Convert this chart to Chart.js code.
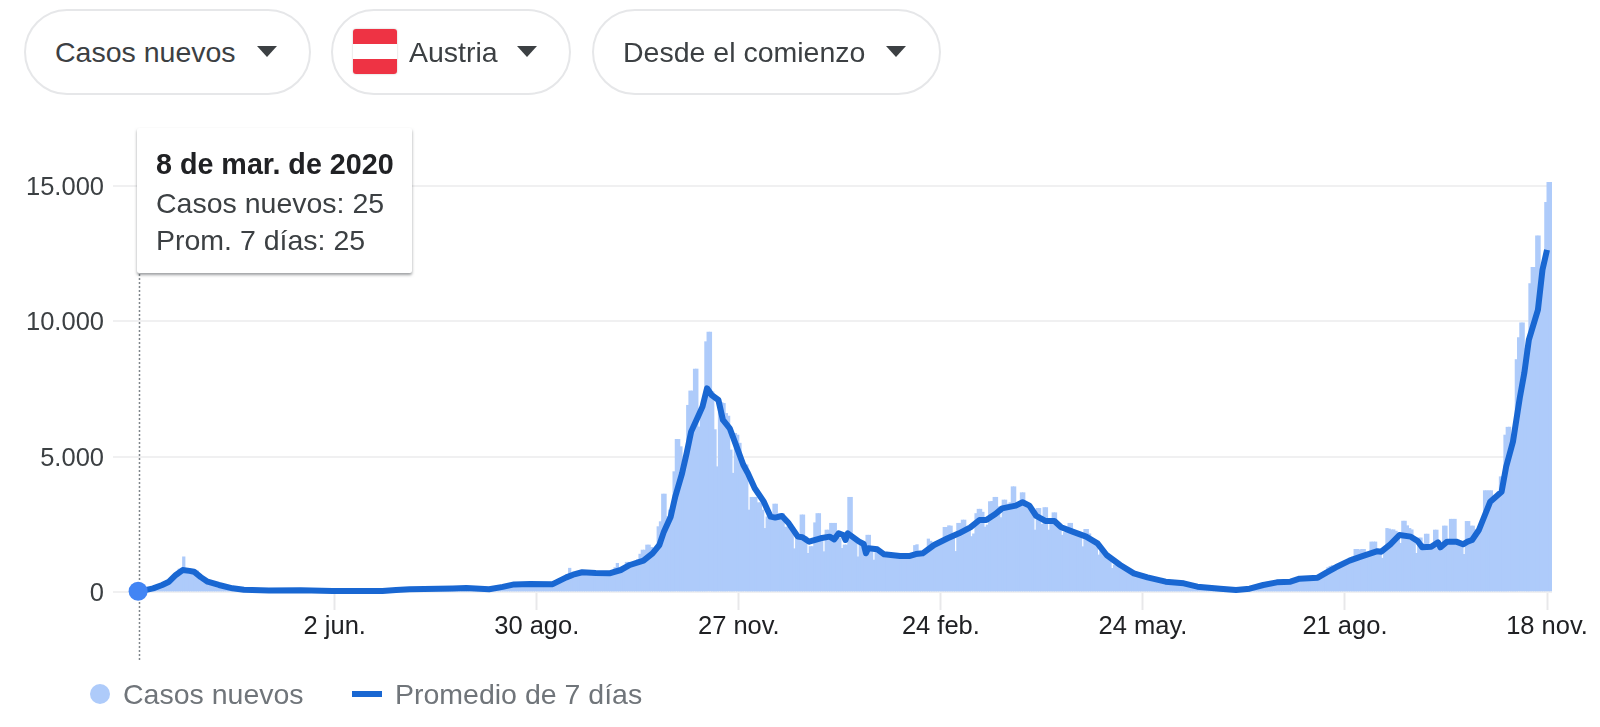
<!DOCTYPE html>
<html lang="es">
<head>
<meta charset="utf-8">
<title>Casos nuevos – Austria</title>
<script src="https://cdn.jsdelivr.net/npm/chart.js@4"></script>
<style>
  html, body { margin: 0; padding: 0; background: #fff; width: 1600px; height: 727px; overflow: hidden; }
  body { position: relative; font-family: "Liberation Sans", Arial, sans-serif; color: #3c4043; }
  #chart { position: absolute; left: 0; top: 0; }
  .pill { position: absolute; top: 9px; height: 86px; box-sizing: border-box; border: 2px solid #e6e7e9; border-radius: 43px; background: #fff; }
  .pill span { position: absolute; top: 25px; line-height: 33px; font-size: 28.5px; white-space: nowrap; }
  .pill i { position: absolute; top: 35px; width: 0; height: 0; border-left: 10.5px solid transparent; border-right: 10.5px solid transparent; border-top: 11px solid #3c4043; }
  .flag { position: absolute; left: 20px; top: 18px; width: 44px; height: 45px; border-radius: 3px; background: linear-gradient(#ee3344 0 33%, #fff 33% 66%, #ee3344 66%); box-shadow: 0 0 2px rgba(0,0,0,.25); }
  #tip { position: absolute; left: 137px; top: 128px; width: 275px; height: 145px; background: #fff; border-radius: 2px; box-shadow: 0 2px 3px rgba(60,64,67,.5); font-size: 28.5px; color: #3c4043; }
  #tip div { position: absolute; left: 19px; line-height: 34px; white-space: nowrap; }
  #tip .head { top: 19px; font-weight: bold; color: #202124; font-size: 28.7px; }
  .legend { position: absolute; top: 677px; line-height: 34px; font-size: 28.5px; color: #70757a; white-space: nowrap; }
  .swatch { position: absolute; }
</style>
</head>
<body>
<canvas id="chart" width="1600" height="727"></canvas>

<div class="pill" style="left:24px;width:287px"><span style="left:29px">Casos nuevos</span><i style="left:231px"></i></div>
<div class="pill" style="left:331px;width:240px"><b class="flag"></b><span style="left:76px">Austria</span><i style="left:184px"></i></div>
<div class="pill" style="left:592px;width:349px"><span style="left:29px">Desde el comienzo</span><i style="left:292px"></i></div>

<div id="tip"><div class="head" id="tipTitle"></div><div id="tipCases" style="top:58px"></div><div id="tipAvg" style="top:95px"></div></div>

<div class="swatch" style="left:90px;top:684px;width:20px;height:20px;border-radius:50%;background:#aecbfa"></div>
<div class="legend" style="left:123px" id="legendCases"></div>
<div class="swatch" style="left:352px;top:691px;width:30px;height:6px;background:#1967d2"></div>
<div class="legend" style="left:395px" id="legendAvg"></div>

<script>
// Austria, new COVID-19 cases per day, counted from 8 March 2020.
const dailyCases = [
  25,30,40,60,80,100,140,150,170,200,
  220,260,310,370,420,560,650,850,850,1300,
  800,780,800,760,700,780,560,520,450,420,
  380,330,300,280,260,250,240,230,210,190,
  170,140,130,100,95,90,85,80,70,65,
  60,60,55,70,65,50,55,60,55,50,
  70,60,55,50,60,70,80,70,60,65,
  55,50,60,55,45,50,40,45,30,40,
  35,30,40,30,35,30,35,25,30,40,
  35,30,30,25,35,40,30,30,25,30,
  35,30,25,40,35,30,35,45,40,50,
  60,50,55,70,90,100,120,110,90,100,
  95,110,90,80,100,120,110,100,90,110,
  120,110,130,120,130,120,110,140,130,120,
  110,120,130,140,120,110,130,120,100,90,
  80,90,100,80,90,100,110,130,160,190,
  210,230,250,280,300,280,270,300,310,290,
  280,300,310,290,280,300,280,270,300,290,
  280,290,300,310,340,400,480,550,650,880,
  640,620,650,720,780,760,740,720,780,700,
  690,710,680,660,650,700,720,750,780,900,
  1060,880,840,860,1100,1100,1050,1080,1100,1200,
  1400,1550,1550,1737,1737,1650,1550,1550,2415,2600,
  3620,3620,2784,3030,3030,4447,5640,5640,5370,4400,
  4500,6900,7430,7430,8240,8240,6100,6700,6800,9250,
  9600,9600,7400,6000,4630,7100,7000,6970,6600,6500,
  5250,4390,5860,5800,5500,4880,4750,4700,3030,3500,
  3500,3500,3300,3300,3030,2350,2780,2780,2780,3250,
  3250,2900,2900,2900,2400,2400,2400,2400,1600,2100,
  2100,2850,2850,2050,1430,1680,1680,2560,2900,2900,
  1920,1490,2290,2290,2540,2540,2540,1980,1980,1614,
  1740,1740,3500,3500,1980,1980,1300,1740,1740,1800,
  2100,2100,1490,1180,1490,1490,1490,1490,1300,1350,
  1280,1310,1400,1250,1300,1300,1350,1280,1250,1320,
  1380,1720,1750,1400,1380,1330,1450,1960,1880,1600,
  1700,1750,1800,1880,2390,2390,2450,2440,2000,1500,
  2540,2540,2660,2660,2300,2350,2050,2150,2900,3060,
  3060,2950,2400,2480,3340,3350,3500,3500,3150,2750,
  3400,3400,3250,3300,3890,3890,3250,3200,3670,3670,
  3300,3200,3150,2900,2290,3090,3090,2500,3120,3120,
  2290,2500,2930,2930,2400,2300,2100,2200,2300,2540,
  2540,2250,2200,2100,2050,1675,2316,2316,2150,1950,
  1850,1750,1368,1500,1450,1350,1300,1150,875,1000,
  1050,950,900,850,820,800,730,650,690,700,
  640,600,560,530,520,470,480,470,430,410,
  400,400,380,370,350,350,340,330,330,320,
  300,280,250,220,210,190,180,170,160,150,
  140,130,130,120,110,110,110,100,90,85,
  80,70,75,70,80,85,90,100,110,125,
  140,170,190,220,250,270,300,320,340,350,
  360,370,350,380,390,370,390,400,420,440,
  480,510,500,510,520,500,520,530,560,600,
  650,700,780,900,950,980,960,940,1000,1050,
  1100,1150,1200,1250,1300,1577,1577,1560,1577,1577,
  1350,1300,1850,1850,1850,1600,1500,1250,1500,2350,
  2330,2300,2300,2250,2000,1800,2620,2620,2450,2350,
  2300,1900,1430,2000,2000,1800,2140,2140,1650,1700,
  2290,2290,1800,1550,2440,2440,1800,2690,2690,2690,
  1900,1800,1700,1390,2610,2610,2440,2440,2300,2200,
  2300,2500,3745,3745,3745,3745,3500,3500,3700,4260,
  4260,5800,6090,6090,5680,5700,8590,9400,9950,9950,
  9000,8900,11400,12000,12000,13160,13160,11800,11900,14400,15140,15140
];

// 7-day average, as day number since 8 March 2020 and value.
const averageDays = [
  0,6,10,13,16,19,22,24,27,30,35,41,46,57,71,85,107,113,119,138,144,154,160,165,172,182,188,191,195,201,
  207,212,216,222,226,229,231,234,236,239,241,243,246,248,250,252,255,257,260,263,266,268,271,275,278,280,
  283,286,290,292,295,300,304,306,308,310,311,312,317,319,320,321,325,328,335,339,342,345,350,356,361,366,
  370,373,377,380,386,389,392,395,399,403,406,411,417,422,426,432,438,444,452,460,466,476,483,489,495,501,
  507,511,519,523,527,533,538,545,547,551,555,560,563,565,569,572,573,576,580,583,585,587,590,595,600,602,
  605,608,610,612,616,618,620
];
const averageValues = [
  25,135,260,380,630,810,780,750,550,380,260,135,85,60,65,40,35,70,100,130,150,100,190,280,295,290,540,640,730,700,
  690,813,998,1158,1430,1737,2230,2784,3523,4386,5125,5926,6480,6850,7527,7281,7096,6357,6049,5371,4694,4386,3832,3339,2784,2750,
  2809,2538,2045,2020,1860,1984,2045,1946,2168,2107,1922,2168,1860,1774,1430,1614,1577,1392,1330,1330,1404,1429,1737,1984,2168,2390,
  2661,2661,2883,3092,3191,3314,3191,2809,2624,2624,2390,2230,2045,1799,1368,998,690,542,382,320,197,120,74,123,259,357,
  382,493,530,727,912,1158,1306,1503,1491,1762,2107,2045,1885,1651,1675,1836,1651,1860,1860,1762,1860,1922,2291,3338,3707,4631,
  5555,7170,8090,9314,10423,11900,12640
];

const xTickDays = [86, 175, 264, 353, 442, 531, 620];
const xTickLabels = ['2 jun.', '30 ago.', '27 nov.', '24 feb.', '24 may.', '21 ago.', '18 nov.'];
const yTickValues = [0, 5000, 10000, 15000];
const selectedDay = 0;
const selectedDate = '8 de mar. de 2020';
const casesLabel = 'Casos nuevos';
const averageLabel = 'Promedio de 7 días';

const formatThousands = v => String(v).replace(/\B(?=(\d{3})+$)/g, '.');

// Header card and legend captions come from the same series as the marks.
document.getElementById('tipTitle').textContent = selectedDate;
document.getElementById('tipCases').textContent = casesLabel + ': ' + dailyCases[selectedDay];
document.getElementById('tipAvg').textContent = 'Prom. 7 días: ' + averageValues[selectedDay];
document.getElementById('legendCases').textContent = casesLabel;
document.getElementById('legendAvg').textContent = averageLabel;

// Dotted guide running down through the selected day.
const selectionGuide = {
  id: 'selectionGuide',
  beforeDatasetsDraw(chart) {
    const { ctx, scales } = chart;
    const x = scales.x.getPixelForValue(selectedDay);
    ctx.save();
    ctx.strokeStyle = '#80868b';
    ctx.lineWidth = 1.5;
    ctx.setLineDash([2, 2]);
    ctx.beginPath();
    ctx.moveTo(x, 270);
    ctx.lineTo(x, 660);
    ctx.stroke();
    ctx.restore();
  }
};

new Chart(document.getElementById('chart'), {
  data: {
    datasets: [
      {
        type: 'scatter',
        label: 'Selección',
        // the marker sits just ahead of the day's bar
        data: [{ x: selectedDay - 0.6, y: dailyCases[selectedDay] }],
        pointRadius: 9.5,
        pointBackgroundColor: '#4285f4',
        pointBorderWidth: 0,
        clip: false,
        order: 1
      },
      {
        type: 'line',
        label: averageLabel,
        data: averageDays.map((d, i) => ({ x: d, y: averageValues[i] })),
        borderColor: '#1967d2',
        borderWidth: 6,
        borderJoinStyle: 'round',
        borderCapStyle: 'butt',
        pointRadius: 0,
        tension: 0,
        clip: false,
        order: 2
      },
      {
        type: 'bar',
        label: casesLabel,
        // each day's bar spans that calendar day
        data: dailyCases.map((v, i) => ({ x: i + 0.5, y: v })),
        backgroundColor: '#aecbfa',
        barThickness: 2.6,
        borderWidth: 0,
        order: 3
      }
    ]
  },
  options: {
    responsive: false,
    animation: false,
    events: [],
    layout: { padding: { top: 159, right: 48, left: 0, bottom: 0 } },
    plugins: { legend: { display: false }, tooltip: { enabled: false } },
    scales: {
      x: {
        type: 'linear',
        min: -11.67,
        max: 622.2,
        offset: false,
        afterBuildTicks: axis => { axis.ticks = xTickDays.map(value => ({ value })); },
        afterFit: axis => { axis.height = 135; },
        border: { display: false },
        grid: { offset: false, drawOnChartArea: false, drawTicks: true, tickLength: 18, tickWidth: 2, tickColor: '#e8e8ea' },
        ticks: {
          autoSkip: false,
          maxRotation: 0,
          padding: 2,
          color: '#202124',
          font: { family: '"Liberation Sans", Arial, sans-serif', size: 25.5 },
          callback: v => xTickLabels[xTickDays.indexOf(v)]
        }
      },
      y: {
        min: 0,
        max: 16000,
        afterBuildTicks: axis => { axis.ticks = yTickValues.map(value => ({ value })); },
        afterFit: axis => { axis.width = 113; },
        border: { display: false },
        grid: { drawTicks: false, lineWidth: 2, color: '#f0f0f1' },
        ticks: {
          padding: 9,
          color: '#3c4043',
          // a blank first line with a short line height sets the digits level with their gridline
          font: { family: '"Liberation Sans", Arial, sans-serif', size: 25.5, lineHeight: '4px' },
          callback: v => ['', formatThousands(v)]
        }
      }
    }
  },
  plugins: [selectionGuide]
});
</script>
</body>
</html>
